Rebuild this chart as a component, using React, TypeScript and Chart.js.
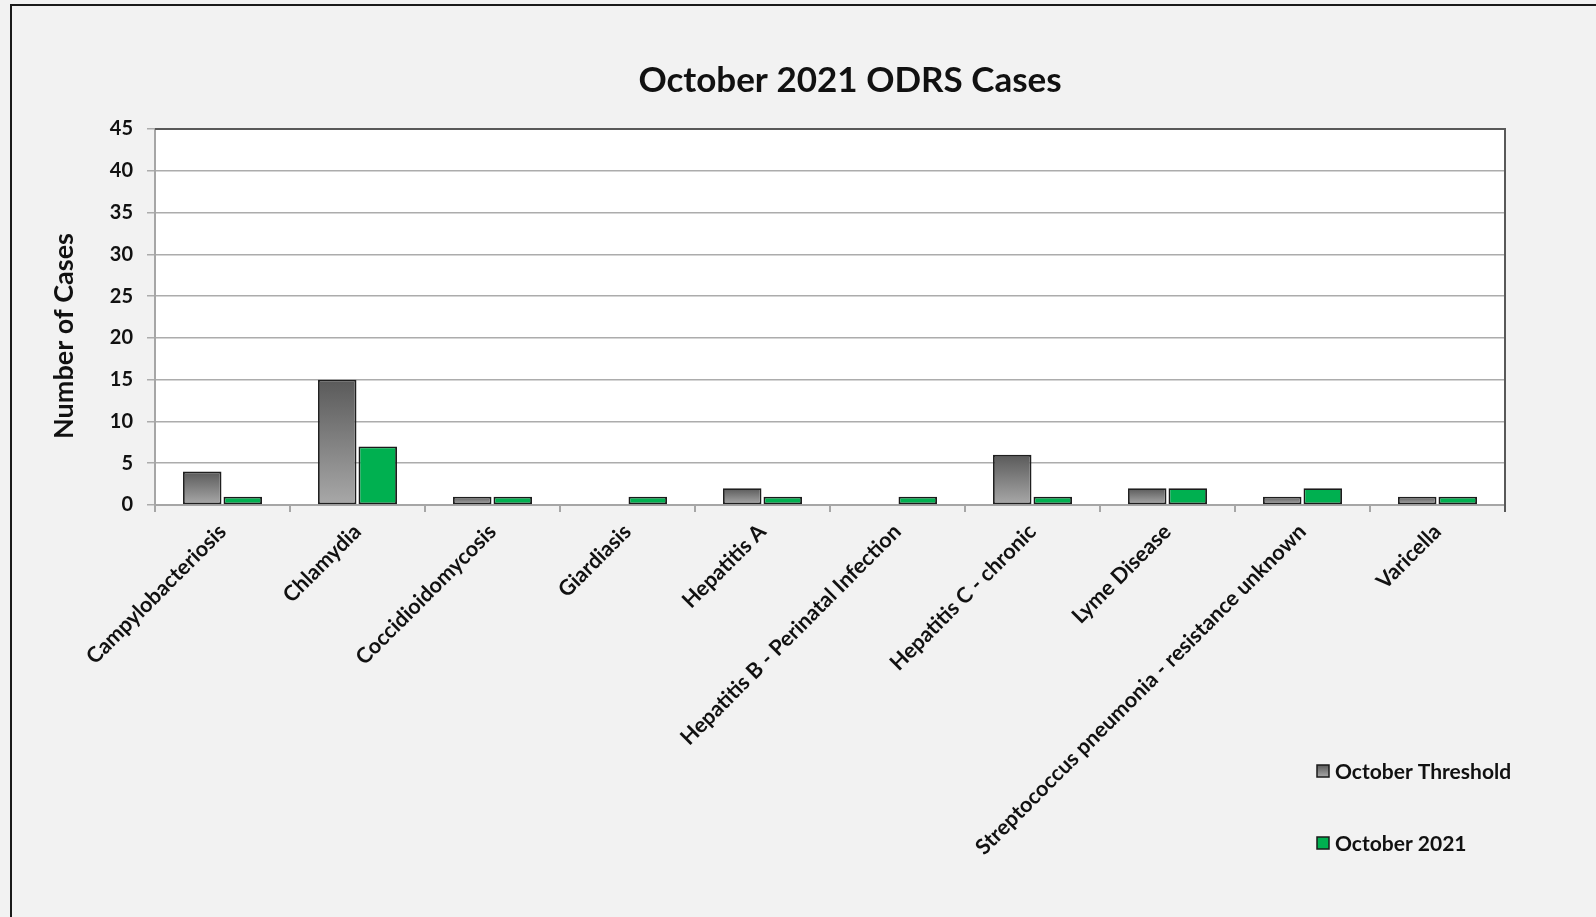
import React, { useEffect, useRef } from "react";
import { Chart, registerables } from "chart.js";

Chart.register(...registerables);

const categories = [
  "Campylobacteriosis",
  "Chlamydia",
  "Coccidioidomycosis",
  "Giardiasis",
  "Hepatitis A",
  "Hepatitis B - Perinatal Infection",
  "Hepatitis C - chronic",
  "Lyme Disease",
  "Streptococcus pneumonia - resistance unknown",
  "Varicella",
];
const thresholdValues = [4, 15, 1, 0, 2, 0, 6, 2, 1, 1];
const octoberValues = [1, 7, 1, 1, 1, 1, 1, 2, 2, 1];
const seriesNames = ["October Threshold", "October 2021"];
const chartTitle = "October 2021 ODRS Cases";
const yAxisTitle = "Number of Cases";

const FONT = "Lato, 'Open Sans', sans-serif";
const GREEN = "#00b050";

function grayGradient(ctx: CanvasRenderingContext2D, top: number, bottom: number) {
  if (!Number.isFinite(top) || !Number.isFinite(bottom) || top === bottom) return "#808080";
  const g = ctx.createLinearGradient(0, top, 0, bottom);
  g.addColorStop(0, "#5a5a5a");
  g.addColorStop(1, "#a8a8a8");
  return g;
}

const decorPlugin = {
  id: "decor",
  beforeDraw(chart: any) {
    const { ctx, chartArea, width, height } = chart;
    ctx.save();
    ctx.fillStyle = "#f2f2f2";
    ctx.fillRect(0, 0, width, height);
    ctx.fillStyle = "#ffffff";
    ctx.fillRect(chartArea.left, chartArea.top, chartArea.right - chartArea.left, chartArea.bottom - chartArea.top);
    ctx.strokeStyle = "#1a1a1a";
    ctx.lineWidth = 2;
    ctx.beginPath();
    ctx.moveTo(11, height);
    ctx.lineTo(11, 5);
    ctx.lineTo(width, 5);
    ctx.stroke();
    ctx.restore();
  },
  beforeDatasetsDraw(chart: any) {
    const meta = chart.getDatasetMeta(0);
    for (const bar of meta.data) {
      const top = Math.min(bar.y, bar.base);
      const bottom = Math.max(bar.y, bar.base);
      bar.options = { ...bar.options, backgroundColor: grayGradient(chart.ctx, top, bottom) };
    }
  },
  afterDraw(chart: any) {
    const { ctx, chartArea } = chart;
    ctx.save();
    ctx.strokeStyle = "#595959";
    ctx.lineWidth = 2;
    ctx.beginPath();
    ctx.moveTo(chartArea.left, chartArea.top);
    ctx.lineTo(chartArea.right, chartArea.top);
    ctx.lineTo(chartArea.right, chartArea.bottom + 7);
    ctx.stroke();

    ctx.fillStyle = "#111111";
    ctx.textAlign = "center";
    ctx.textBaseline = "middle";
    ctx.font = `bold 35px ${FONT}`;
    ctx.fillText(chartTitle, 850, 81);

    ctx.save();
    ctx.translate(64, 336);
    ctx.rotate(-Math.PI / 2);
    ctx.font = `bold 27px ${FONT}`;
    ctx.fillText(yAxisTitle, 0, 0);
    ctx.restore();

    const items = [
      { name: seriesNames[0], y: 771, gray: true },
      { name: seriesNames[1], y: 843, gray: false },
    ];
    ctx.font = `bold 21px ${FONT}`;
    ctx.textAlign = "left";
    for (const it of items) {
      const x = 1317;
      const s = 12;
      ctx.fillStyle = it.gray ? grayGradient(ctx, it.y - s / 2, it.y + s / 2) : GREEN;
      ctx.fillRect(x, it.y - s / 2, s, s);
      ctx.strokeStyle = "#1a1a1a";
      ctx.lineWidth = 1.5;
      ctx.strokeRect(x, it.y - s / 2, s, s);
      ctx.fillStyle = "#111111";
      ctx.fillText(it.name, x + 18, it.y + 1);
    }
    ctx.restore();
  },
};

export default function App() {
  const canvasRef = useRef<HTMLCanvasElement | null>(null);

  useEffect(() => {
    const canvas = canvasRef.current;
    if (!canvas) return;
    const chart = new Chart(canvas, {
      type: "bar",
      data: {
        labels: categories,
        datasets: [
          {
            label: seriesNames[0],
            data: thresholdValues,
            backgroundColor: () => "#808080",
            borderColor: "#1f1f1f",
            borderWidth: 1.8,
            borderSkipped: false,
          },
          {
            label: seriesNames[1],
            data: octoberValues,
            backgroundColor: GREEN,
            borderColor: "#1a1a1a",
            borderWidth: 1.8,
            borderSkipped: false,
          },
        ],
      },
      options: {
        responsive: false,
        animation: false,
        layout: { padding: { top: 129, left: 0, right: 91, bottom: 0 } },
        plugins: {
          legend: { display: false },
          title: { display: false },
          tooltip: { enabled: false },
        },
        datasets: {
          bar: { categoryPercentage: 0.6, barPercentage: 0.95 },
        },
        scales: {
          x: {
            afterFit: (s: any) => {
              s.height = 412;
            },
            grid: {
              display: true,
              drawOnChartArea: false,
              drawTicks: true,
              tickLength: 7,
              color: "#a6a6a6",
              lineWidth: 2,
            },
            border: { display: true, color: "#a6a6a6", width: 2 },
            ticks: {
              autoSkip: false,
              maxRotation: 45,
              minRotation: 45,
              padding: 7,
              color: "#111111",
              font: { family: FONT, size: 21.5, weight: "bold" },
            },
          },
          y: {
            min: 0,
            max: 45,
            afterFit: (s: any) => {
              s.width = 155;
            },
            grid: {
              color: "#acacac",
              lineWidth: 1.5,
              drawTicks: true,
              tickLength: 8,
            },
            border: { display: true, color: "#a6a6a6", width: 2 },
            ticks: {
              stepSize: 5,
              padding: 14,
              color: "#111111",
              font: { family: FONT, size: 20, weight: "bold" },
            },
          },
        },
      },
      plugins: [decorPlugin],
    } as any);
    return () => chart.destroy();
  }, []);

  return (
    <div style={{ position: "fixed", left: 0, top: 0, width: 1596, height: 917, background: "#f2f2f2" }}>
      <canvas ref={canvasRef} width={1596} height={917} style={{ display: "block", width: 1596, height: 917 }} />
    </div>
  );
}
